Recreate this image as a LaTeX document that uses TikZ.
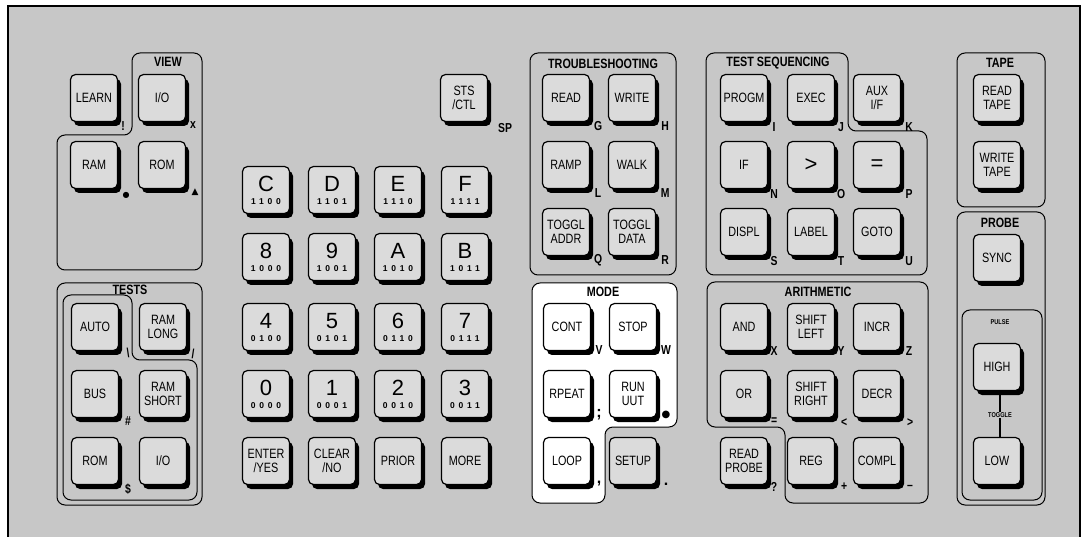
\documentclass[tikz,border=0pt]{standalone}
\usepackage{fontspec}
\setmainfont{Liberation Sans}
\newfontfamily\condf{Liberation Sans}[FakeStretch=0.8]
\newfontfamily\digf{Liberation Sans}
\newfontfamily\symf{DejaVu Sans}
\newfontfamily\binf{Liberation Sans}[LetterSpace=45]
\usetikzlibrary{shadows,calc}
\definecolor{bg}{gray}{0.78}
\definecolor{keyc}{gray}{0.86}
\tikzset{
  key/.style={draw, line width=1.2pt, rounded corners=5pt, minimum width=47pt, minimum height=47pt,
    fill=keyc, inner sep=0pt, align=center, font=\condf\fontsize{13.5}{14}\selectfont,
    drop shadow={opacity=1, fill=black, shadow xshift=3.5pt, shadow yshift=-4.5pt}},
  wkey/.style={key, fill=white},
  lab/.style={font=\condf\bfseries\fontsize{13}{13}\selectfont, inner sep=0pt},
  ttl/.style={font=\condf\bfseries\fontsize{13.5}{13.5}\selectfont, inner sep=1pt},
  tiny/.style={font=\condf\bfseries\fontsize{7}{7}\selectfont, inner sep=1pt},
  grp/.style={draw, line width=1pt, rounded corners=8pt},
}
\newcommand{\hexkey}[4]{\node[key] (#1) at (#2) {{\digf\fontsize{22}{20}\selectfont #3}\\[-1pt]{\binf\bfseries\fontsize{8.5}{8.5}\selectfont #4}};}
\begin{document}
\begin{tikzpicture}[x=1pt,y=-1pt]
\fill[white] (0,0) rectangle (1082,537);
\useasboundingbox (0,0) rectangle (1082,537);
\draw[fill=bg, line width=1.6pt] (8,6) rectangle (1080,560);

% ---------- groups ----------
\draw[grp] (57,135) -- (132,135) -- (132,53) -- (202,53) -- (202,270) -- (57,270) -- cycle;
\node[ttl] (tview) at (168,62) {VIEW};
\draw[grp] (57,283) rectangle (202,505);
\draw[grp] (63,295) -- (132,295) -- (132,360) -- (197,360) -- (197,500) -- (63,500) -- cycle;
\node[ttl] (ttests) at (130,290) {TESTS};
\draw[grp] (530,53) rectangle (676,275);
\node[ttl] (ttrouble) at (603,64) {TROUBLESHOOTING};
\draw[grp, fill=white] (532,283) -- (677,283) -- (677,427) -- (605,427) -- (605,503) -- (532,503) -- cycle;
\node[ttl] (tmode) at (603,292) {MODE};
\draw[grp] (706,53) -- (848,53) -- (848,131) -- (927,131) -- (927,275) -- (706,275) -- cycle;
\node[ttl] (tseq) at (778,63) {TEST SEQUENCING};
\draw[grp] (707,282) -- (928,282) -- (928,503) -- (785,503) -- (785,427) -- (707,427) -- cycle;
\node[ttl] (tarith) at (818,292) {ARITHMETIC};
\draw[grp] (957,53) rectangle (1045,207);
\node[ttl] (ttape) at (1000,63) {TAPE};
\draw[grp] (957,212) rectangle (1045,505);
\node[ttl] (tprobe) at (1000,223) {PROBE};
\draw[grp] (962,310) rectangle (1042,500);
\node[tiny] (tpulse) at (1000,322) {PULSE};

% ---------- left keys ----------
\node[key] (learn) at (94,98) {LEARN};
\node[key] (vio) at (162,98) {I/O};
\node[key] (ram) at (94,165) {RAM};
\node[key] (rom) at (162,165) {ROM};
\node[key] (auto) at (95,327) {AUTO};
\node[key] (ramlong) at (163,327) {RAM\\LONG};
\node[key] (bus) at (95,394) {BUS};
\node[key] (ramshort) at (163,394) {RAM\\SHORT};
\node[key] (trom) at (95,461) {ROM};
\node[key] (tio) at (163,461) {I/O};
\node[lab] at ($(learn.south east)+(5,4)$) {!};
\node[lab] at ($(vio.south east)+(7,3)$) {x};
\node[lab] at ($(ram.south east)+(8,6)$) {\symf\fontsize{8}{8}\selectfont ●};
\node[lab] at ($(rom.south east)+(9,3)$) {\symf\fontsize{9}{9}\selectfont ▲};
\node[lab] at ($(auto.south east)+(9,2)$) {\textbackslash};
\node[lab] at ($(ramlong.south east)+(6,3)$) {/};
\node[lab] at ($(bus.south east)+(9,3)$) {\#};
\node[lab] at ($(trom.south east)+(9,4)$) {\$};

% ---------- keypad ----------
\node[key] (sts) at (464,98) {STS\\/CTL};
\node[lab] at ($(sts.south east)+(17,6)$) {SP};
\hexkey{kc}{266,190}{C}{1100}
\hexkey{kd}{332,190}{D}{1101}
\hexkey{ke}{398,190}{E}{1110}
\hexkey{kf}{465,190}{F}{1111}
\hexkey{k8}{266,257}{8}{1000}
\hexkey{k9}{332,257}{9}{1001}
\hexkey{ka}{398,257}{A}{1010}
\hexkey{kb}{465,257}{B}{1011}
\hexkey{k4}{266,327}{4}{0100}
\hexkey{k5}{332,327}{5}{0101}
\hexkey{k6}{398,327}{6}{0110}
\hexkey{k7}{465,327}{7}{0111}
\hexkey{k0}{266,394}{0}{0000}
\hexkey{k1}{332,394}{1}{0001}
\hexkey{k2}{398,394}{2}{0010}
\hexkey{k3}{465,394}{3}{0011}
\node[key] (enter) at (266,461) {ENTER\\/YES};
\node[key] (clear) at (332,461) {CLEAR\\/NO};
\node[key] (prior) at (398,461) {PRIOR};
\node[key] (more) at (465,461) {MORE};

% ---------- troubleshooting ----------
\node[key] (read) at (566,98) {READ};
\node[key] (write) at (632,98) {WRITE};
\node[key] (ramp) at (566,165) {RAMP};
\node[key] (walk) at (632,165) {WALK};
\node[key] (taddr) at (566,232) {TOGGL\\ADDR};
\node[key] (tdata) at (632,232) {TOGGL\\DATA};
\node[lab] at ($(read.south east)+(8,4)$) {G};
\node[lab] at ($(write.south east)+(9,4)$) {H};
\node[lab] at ($(ramp.south east)+(8,4)$) {L};
\node[lab] at ($(walk.south east)+(9,4)$) {M};
\node[lab] at ($(taddr.south east)+(8,4)$) {Q};
\node[lab] at ($(tdata.south east)+(9,4)$) {R};

% ---------- mode ----------
\node[wkey] (cont) at (567,327) {CONT};
\node[wkey] (stop) at (633,327) {STOP};
\node[wkey] (rpeat) at (567,394) {RPEAT};
\node[wkey] (runuut) at (633,394) {RUN\\UUT};
\node[wkey] (loop) at (567,461) {LOOP};
\node[key] (setup) at (633,461) {SETUP};
\node[lab] at ($(cont.south east)+(8,-1)$) {V};
\node[lab] at ($(stop.south east)+(9,-1)$) {W};
\node[lab, font=\bfseries\fontsize{16}{16}\selectfont] at ($(rpeat.south east)+(8,-3)$) {;};
\node[lab] at ($(runuut.south east)+(9,-3)$) {\symf\fontsize{10}{10}\selectfont ●};
\node[lab, font=\bfseries\fontsize{16}{16}\selectfont] at ($(loop.south east)+(8,-2)$) {,};
\node[lab, font=\bfseries\fontsize{16}{16}\selectfont] at ($(setup.south east)+(9,-1)$) {.};

% ---------- test sequencing ----------
\node[key] (progm) at (744,98) {PROGM};
\node[key] (exec) at (811,98) {EXEC};
\node[key] (aux) at (877,98) {AUX\\I/F};
\node[key, font=\digf\fontsize{22}{22}\selectfont] (gt) at (811,165) {>};
\node[key] (kif) at (744,165) {IF};
\node[key, font=\digf\fontsize{22}{22}\selectfont] (eq) at (877,165) {=};
\node[key] (displ) at (744,232) {DISPL};
\node[key] (label) at (811,232) {LABEL};
\node[key] (goto) at (877,232) {GOTO};
\node[lab] at ($(progm.south east)+(6,5)$) {I};
\node[lab] at ($(exec.south east)+(6,5)$) {J};
\node[lab] at ($(aux.south east)+(8,5)$) {K};
\node[lab] at ($(kif.south east)+(6,5)$) {N};
\node[lab] at ($(gt.south east)+(6,5)$) {O};
\node[lab] at ($(eq.south east)+(8,5)$) {P};
\node[lab] at ($(displ.south east)+(6,5)$) {S};
\node[lab] at ($(label.south east)+(6,5)$) {T};
\node[lab] at ($(goto.south east)+(8,5)$) {U};

% ---------- arithmetic ----------
\node[key] (kand) at (744,327) {AND};
\node[key] (shl) at (811,327) {SHIFT\\LEFT};
\node[key] (incr) at (877,327) {INCR};
\node[key] (kor) at (744,394) {OR};
\node[key] (shr) at (811,394) {SHIFT\\RIGHT};
\node[key] (decr) at (877,394) {DECR};
\node[key] (rprobe) at (744,461) {READ\\PROBE};
\node[key] (reg) at (811,461) {REG};
\node[key] (compl) at (877,461) {COMPL};
\node[lab] at ($(kand.south east)+(6,0)$) {X};
\node[lab] at ($(shl.south east)+(6,0)$) {Y};
\node[lab] at ($(incr.south east)+(8,0)$) {Z};
\node[lab] at ($(kor.south east)+(6,3)$) {=};
\node[lab] at ($(shr.south east)+(9,4)$) {<};
\node[lab] at ($(decr.south east)+(9,4)$) {>};
\node[lab] at ($(rprobe.south east)+(6,2)$) {?};
\node[lab] at ($(reg.south east)+(9,2)$) {+};
\node[lab] at ($(compl.south east)+(9,2)$) {\textendash};

% ---------- tape / probe ----------
\node[key] (rtape) at (997,98) {READ\\TAPE};
\node[key] (wtape) at (997,165) {WRITE\\TAPE};
\node[key] (sync) at (997,258) {SYNC};
\node[key] (high) at (997,367) {HIGH};
\node[key] (low) at (997,461) {LOW};
\draw[line width=2.5pt] ([xshift=3pt]high.south) -- ([xshift=3pt]low.north);
\node[tiny, fill=bg] (ttoggle) at (1000,415) {TOGGLE};
\end{tikzpicture}
\end{document}
